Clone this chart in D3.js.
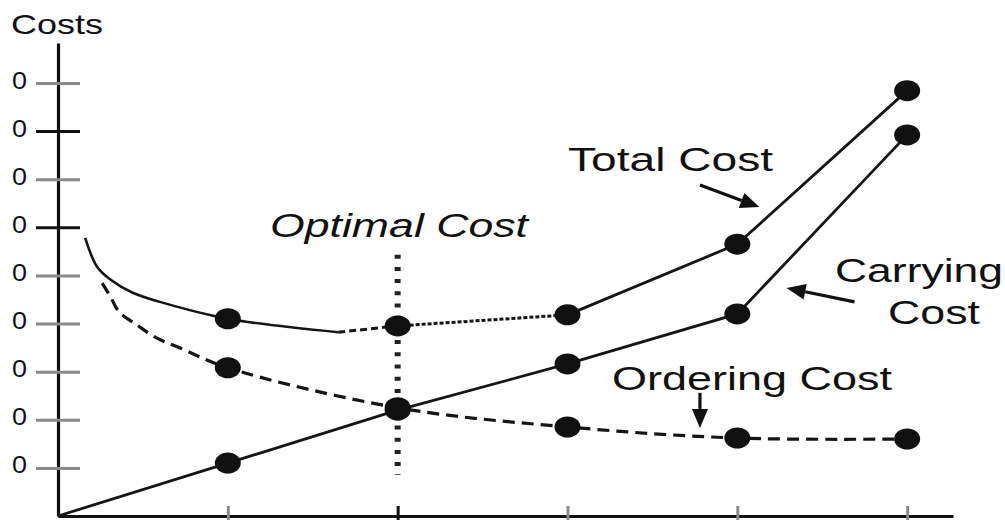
<!DOCTYPE html>
<html>
<head>
<meta charset="utf-8">
<script src="https://cdn.jsdelivr.net/npm/d3@7"></script>
<style>
  body { margin: 0; background: #fff; }
  text { font-family: "Liberation Sans", Arial, sans-serif; fill: #111; }
</style>
</head>
<body>
<script>
// values (x = order quantity step, y = cost units)
const xTicks = [1, 2, 3, 4, 5];
const yTicks = [1, 2, 3, 4, 5, 6, 7, 8, 9];
const yTickLabels = ["0", "0", "0", "0", "0", "0", "0", "0", "0"];

const totalX = [0.16, 0.23, 0.31, 0.44, 0.6, 1, 1.65, 2, 3, 4, 5];
const totalCost = [5.78, 5.18, 4.91, 4.64, 4.45, 4.10, 3.82, 3.95, 4.18, 5.65, 8.84];

const orderingX = [0.26, 0.31, 0.36, 0.465, 0.58, 0.72, 1, 2, 3, 4, 5];
const orderingCost = [4.84, 4.55, 4.24, 3.97, 3.70, 3.49, 3.08, 2.25, 1.85, 1.62, 1.60];

const carryingX = [0, 1, 2, 3, 4, 5];
const carryingCost = [0, 1.10, 2.2, 3.16, 4.20, 7.92];

const optimalX = 2;
const optimalRange = [0.85, 5.43];

// annotation arrows, in data units: [fromX, fromY, toX, toY]
const arrows = [
    [3.78, 6.88, 4.13, 6.42],   // total cost
    [4.69, 4.45, 4.29, 4.74],   // carrying cost
    [3.78, 2.56, 3.78, 1.83]    // ordering cost
];

const width = 1005, height = 520;

var svg = d3.select("body").append("svg")
    .attr("width", width)
    .attr("height", height);

let x = d3.scaleLinear().domain([0, 5.27]).range([58, 953]);
let y = d3.scaleLinear().domain([0, 9.83]).range([516, 43]);

// axes
let yAxis = svg.append("g")
    .attr("transform", `translate(${x(0)},0)`)
    .call(d3.axisLeft(y).tickValues(yTicks).tickSize(0)
        .tickFormat((d, i) => yTickLabels[i]));
yAxis.select(".domain").attr("stroke", "#111").attr("stroke-width", 3.2);
yAxis.selectAll(".tick line")
    .attr("x1", -22).attr("x2", 22)
    .attr("stroke", d => (d == 6 || d == 8) ? "#111" : "#8a8a8a")
    .attr("stroke-width", 3);
yAxis.selectAll(".tick text")
    .attr("x", -31).attr("dy", "0.22em")
    .attr("font-size", 23)
    .attr("textLength", 15).attr("lengthAdjust", "spacingAndGlyphs")
    .style("font-family", "Liberation Sans, Arial, sans-serif")
    .attr("fill", "#111");

let xAxis = svg.append("g")
    .attr("transform", `translate(0,${y(0)})`)
    .call(d3.axisBottom(x).tickValues(xTicks).tickSize(0).tickFormat(""));
xAxis.select(".domain").attr("stroke", "#111").attr("stroke-width", 3.2);
xAxis.selectAll(".tick line")
    .attr("y1", -10).attr("y2", 4)
    .attr("stroke", d => d == optimalX ? "#111" : "#8a8a8a")
    .attr("stroke-width", 3);

// optimal vertical dotted line
svg.append("line")
    .attr("x1", x(optimalX)).attr("x2", x(optimalX))
    .attr("y1", y(optimalRange[1])).attr("y2", y(optimalRange[0]))
    .attr("stroke", "#222")
    .attr("stroke-width", 6)
    .attr("stroke-dasharray", "4 8.2");

let pts = (xs, vs) => xs.map((v, i) => [x(v), y(vs[i])]);
let smooth = d3.line().curve(d3.curveCatmullRom.alpha(0.5));
let straight = d3.line();

let total = pts(totalX, totalCost);
let ordering = pts(orderingX, orderingCost);
let carrying = pts(carryingX, carryingCost);

function seg(points, gen, dash, w) {
    svg.append("path")
        .attr("d", gen(points))
        .attr("fill", "none")
        .attr("stroke", "#151515")
        .attr("stroke-width", w)
        .attr("stroke-dasharray", dash);
}

// carrying cost
seg(carrying, straight, null, 2.8);
// ordering cost
seg(ordering, smooth, "12 7", 3.2);
// total cost: solid, dashed, dotted, solid
let k = totalX.indexOf(1.65), k2 = totalX.indexOf(2), k3 = totalX.indexOf(3);
seg(total.slice(0, k + 1), smooth, null, 2.6);
seg(total.slice(k, k2 + 1), straight, "7 4", 3);
seg(total.slice(k2, k3 + 1), straight, "4 2", 3);
seg(total.slice(k3), straight, null, 2.8);

// dots at each integer step
let dots = [];
[[totalX, totalCost], [orderingX, orderingCost], [carryingX, carryingCost]].forEach(s => {
    s[0].forEach((v, i) => {
        if (Number.isInteger(v) && v > 0) dots.push([x(v), y(s[1][i])]);
    });
});
svg.selectAll(".dot")
    .data(dots)
    .enter().append("ellipse")
    .attr("class", "dot")
    .attr("cx", d => d[0]).attr("cy", d => d[1])
    .attr("rx", 13).attr("ry", 10.5)
    .attr("fill", "#111");

// arrows
arrows.forEach(a => {
    let x1 = x(a[0]), y1 = y(a[1]), x2 = x(a[2]), y2 = y(a[3]);
    let dx = x2 - x1, dy = y2 - y1, len = Math.sqrt(dx * dx + dy * dy);
    let ux = dx / len, uy = dy / len;
    let hl = 19, hw = 8;
    let bx = x2 - ux * hl, by = y2 - uy * hl;
    svg.append("line")
        .attr("x1", x1).attr("y1", y1).attr("x2", bx).attr("y2", by)
        .attr("stroke", "#111").attr("stroke-width", 3.2);
    svg.append("path")
        .attr("d", `M${x2},${y2}L${bx - uy * hw},${by + ux * hw}L${bx + uy * hw},${by - ux * hw}Z`)
        .attr("fill", "#111");
});

// labels
function label(txt, px, py, size, len, italic) {
    svg.append("text")
        .attr("x", px).attr("y", py)
        .attr("font-size", size)
        .attr("font-style", italic ? "italic" : "normal")
        .attr("textLength", len)
        .attr("lengthAdjust", "spacingAndGlyphs")
        .text(txt);
}
label("Costs", 11, 34, 28, 92);
label("Optimal Cost", 270, 237, 34, 258, true);
label("Total Cost", 568, 171, 33, 205);
label("Carrying", 835, 282, 33, 168);
label("Cost", 888, 324, 33, 92);
label("Ordering Cost", 612, 390, 33, 280);
</script>
</body>
</html>
